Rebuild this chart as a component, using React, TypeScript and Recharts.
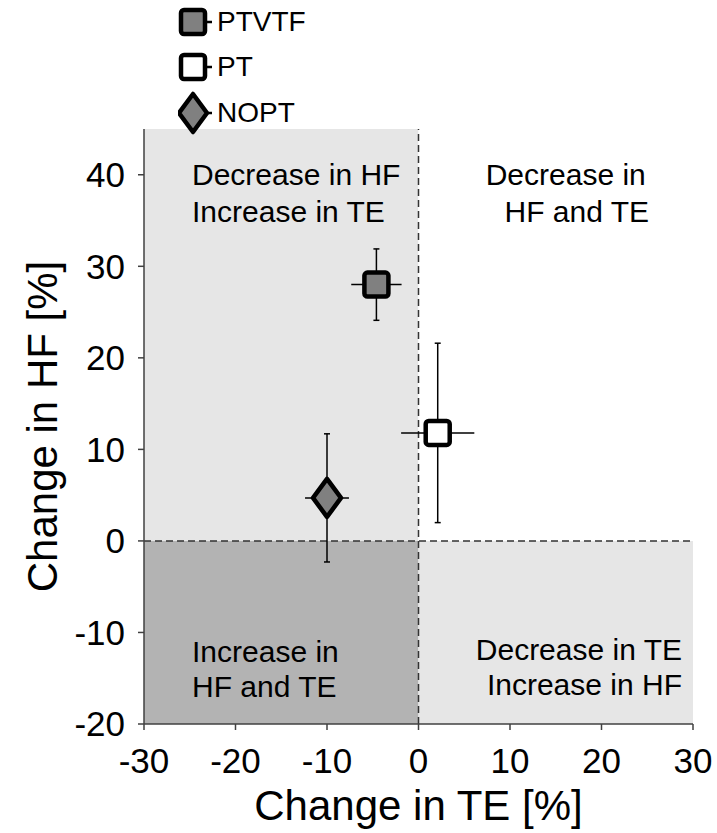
import React from 'react';
import {
  ScatterChart, Scatter, XAxis, YAxis, ErrorBar, ReferenceArea, ReferenceLine, Legend,
} from 'recharts';

const groups = ['PTVTF', 'PT', 'NOPT'];
const teChange = [-4.6, 2.1, -10.0];
const hfChange = [28.0, 11.8, 4.7];
const teError = [2.75, 4.0, 2.4];
const hfError = [3.9, 9.8, 7.0];
const groupFills = ['#808080', '#ffffff', '#808080'];
const groupShapes = ['square', 'square', 'diamond'];

const xTicks = [-30, -20, -10, 0, 10, 20, 30];
const yTicks = [-20, -10, 0, 10, 20, 30, 40];
const xDomain = [-30, 30];
const yDomain = [-20, 45];

const FONT = '"Liberation Sans", Arial, Helvetica, sans-serif';

const quadrants = [
  { x1: -30, x2: 0, y1: 0, y2: 45, fill: '#e6e6e6', lines: ['Decrease in HF', 'Increase in TE'], anchor: 'start', dx: [48, 48], dy: [56, 93] },
  { x1: 0, x2: 30, y1: 0, y2: 45, fill: '#ffffff', lines: ['Decrease in', 'HF and TE'], anchor: 'middle', dx: [10, 21], dy: [56, 93] },
  { x1: -30, x2: 0, y1: -20, y2: 0, fill: '#b3b3b3', lines: ['Increase in', 'HF and TE'], anchor: 'start', dx: [48, 48], dy: [121, 156] },
  { x1: 0, x2: 30, y1: -20, y2: 0, fill: '#e6e6e6', lines: ['Decrease in TE', 'Increase in HF'], anchor: 'end', dx: [11, 11], dy: [119, 154] },
];

function QuadLabel(props: any) {
  const { viewBox, lines, anchor, dx, dy } = props;
  if (!viewBox) return null;
  const { x, y, width } = viewBox;
  return (
    <g>
      {lines.map((l: string, i: number) => {
        const tx = anchor === 'start' ? x + dx[i] : anchor === 'end' ? x + width - dx[i] : x + width / 2 + dx[i];
        return (
          <text key={i} x={tx} y={y + dy[i]} textAnchor={anchor} fontSize={30} fontFamily={FONT} fill="#000">
            {l}
          </text>
        );
      })}
    </g>
  );
}

function Marker({ cx, cy, shape, fill }: any) {
  if (shape === 'diamond') {
    return (
      <polygon
        points={`${cx},${cy - 19} ${cx + 14},${cy} ${cx},${cy + 19} ${cx - 14},${cy}`}
        fill={fill} stroke="#000" strokeWidth={4.5} strokeLinejoin="round"
      />
    );
  }
  return (
    <rect x={cx - 12} y={cy - 12} width={24} height={24} rx={3} ry={3}
      fill={fill} stroke="#000" strokeWidth={4.5} />
  );
}

function YTitle(props: any) {
  const { viewBox } = props;
  if (!viewBox) return null;
  const cx = viewBox.x + 57;
  const cy = viewBox.y + viewBox.height / 2;
  return (
    <text x={cx} y={cy} transform={`rotate(-90 ${cx} ${cy})`} textAnchor="middle"
      fontSize={42} fontFamily={FONT} fill="#000">Change in HF [%]</text>
  );
}

function XTitle(props: any) {
  const { viewBox } = props;
  if (!viewBox) return null;
  return (
    <text x={viewBox.x + viewBox.width / 2} y={viewBox.y + 96} textAnchor="middle"
      fontSize={42} fontFamily={FONT} fill="#000">Change in TE [%]</text>
  );
}

function LegendContent() {
  return (
    <div style={{ fontFamily: FONT, fontSize: 28, color: '#000', lineHeight: 1 }}>
      {groups.map((g, i) => (
        <div key={g} style={{ display: 'flex', alignItems: 'center', height: 45.5 }}>
          <svg width={38} height={44} style={{ display: 'block' }}>
            <line x1={27} y1={22} x2={34} y2={22} stroke="#000" strokeWidth={2.5} />
            <Marker cx={15} cy={22} shape={groupShapes[i]} fill={groupFills[i]} />
          </svg>
          <span style={{ marginLeft: 1 }}>{g}</span>
        </div>
      ))}
    </div>
  );
}

export default function App() {
  const seriesData = groups.map((g, i) => [
    { x: teChange[i], y: hfChange[i], ex: teError[i], ey: hfError[i], name: g },
  ]);
  return (
    <div style={{ position: 'absolute', left: 0, top: 0, width: 717, height: 833, background: '#fff' }}>
      <ScatterChart width={717} height={833} margin={{ top: 129, right: 24, bottom: 0, left: 0 }}>
        {quadrants.map((q, i) => (
          <ReferenceArea key={i} x1={q.x1} x2={q.x2} y1={q.y1} y2={q.y2} fill={q.fill}
            fillOpacity={1} stroke="none" ifOverflow="hidden"
            label={<QuadLabel lines={q.lines} anchor={q.anchor} dx={q.dx} dy={q.dy} />} />
        ))}
        <ReferenceLine x={0} stroke="#333" strokeWidth={1.5} strokeDasharray="7 4" />
        <ReferenceLine y={0} stroke="#333" strokeWidth={1.5} strokeDasharray="7 4" />
        <XAxis type="number" dataKey="x" domain={xDomain} ticks={xTicks} allowDataOverflow
          height={109} tickSize={6} tickMargin={18} interval={0}
          axisLine={{ stroke: '#404040', strokeWidth: 1.5 }} tickLine={{ stroke: '#404040', strokeWidth: 1.5 }}
          tick={{ fontSize: 35, fontFamily: FONT, fill: '#000' }}
          label={<XTitle />} />
        <YAxis type="number" dataKey="y" domain={yDomain} ticks={yTicks} allowDataOverflow
          width={144} tickSize={6} tickMargin={13} interval={0}
          axisLine={{ stroke: '#404040', strokeWidth: 1.5 }} tickLine={{ stroke: '#404040', strokeWidth: 1.5 }}
          tick={{ fontSize: 35, fontFamily: FONT, fill: '#000' }}
          label={<YTitle />} />
        {seriesData.map((d, i) => (
          <Scatter key={groups[i]} name={groups[i]} data={d} isAnimationActive={false}
            shape={(p: any) => <Marker cx={p.cx} cy={p.cy} shape={groupShapes[i]} fill={groupFills[i]} />}>
            <ErrorBar dataKey="ex" direction="x" width={0} stroke="#000" strokeWidth={1.5} />
            <ErrorBar dataKey="ey" direction="y" width={3} stroke="#000" strokeWidth={1.5} />
          </Scatter>
        ))}
        <Legend layout="vertical" align="center" verticalAlign="middle" content={<LegendContent />}
          wrapperStyle={{ left: 178, top: -1, width: 'auto', right: 'auto', bottom: 'auto' }} />
      </ScatterChart>
    </div>
  );
}
